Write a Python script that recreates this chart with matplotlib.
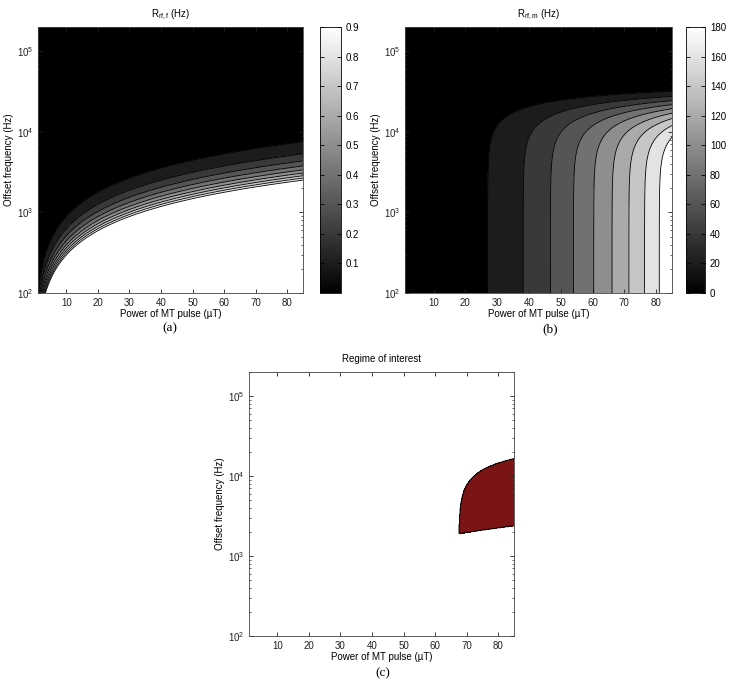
import numpy as np
import matplotlib
matplotlib.use("Agg")
import matplotlib.pyplot as plt
from matplotlib import cm, colors as mcolors
from matplotlib.ticker import LogLocator, NullFormatter, FixedLocator

plt.rcParams["font.family"] = ["Liberation Sans", "DejaVu Sans"]
plt.rcParams["font.size"] = 7
plt.rcParams["mathtext.default"] = "regular"

# --- values ---
power_range = [1, 85]            # µT (x axis)
offset_range = [1e2, 2e5]        # Hz (y axis, log)
x_ticks = [10, 20, 30, 40, 50, 60, 70, 80]
y_ticks = [1e2, 1e3, 1e4, 1e5]

# free pool: R_rf,f = 0.9 Hz at 85 µT / 2520 Hz, scales as (B1/offset)^2
rff_ref = [85.0, 2520.0, 0.9]
rff_levels = [0, 0.1, 0.2, 0.3, 0.4, 0.5, 0.6, 0.7, 0.8, 0.9]
rff_cbar_ticks = [0.1, 0.2, 0.3, 0.4, 0.5, 0.6, 0.7, 0.8, 0.9]

# bound pool: R_rf,m = 20 Hz at 27 µT (low offset), lineshape roll-off
rfm_ref = [27.0, 20.0]
rfm_width = 22700.0              # Hz
rfm_shape = 2.41
rfm_levels = [0, 20, 40, 60, 80, 100, 120, 140, 160, 180]
rfm_cbar_ticks = [0, 20, 40, 60, 80, 100, 120, 140, 160, 180]

# regime of interest thresholds
rff_max = 1.0
rfm_min = 125.0

RED = "#7b1515"

b1 = np.linspace(power_range[0], power_range[1], 500)
off = np.logspace(np.log10(offset_range[0]), np.log10(offset_range[1]), 500)
B1, OFF = np.meshgrid(b1, off)

RFF = rff_ref[2] * (B1 / rff_ref[0]) ** 2 * (rff_ref[1] / OFF) ** 2
RFM = rfm_ref[1] * (B1 / rfm_ref[0]) ** 2 * np.exp(-(OFF / rfm_width) ** rfm_shape)

fig = plt.figure(figsize=(7.33, 6.88), dpi=100)


def style_axes(ax, title):
    ax.set_yscale("log")
    ax.set_xlim(power_range)
    ax.set_ylim(offset_range)
    ax.set_xticks(x_ticks)
    ax.yaxis.set_major_locator(FixedLocator(y_ticks))
    ax.yaxis.set_minor_locator(LogLocator(base=10, subs=np.arange(2, 10)))
    ax.yaxis.set_minor_formatter(NullFormatter())
    ax.tick_params(which="both", direction="in", top=True, right=True,
                   labelsize=7, colors="#222222")
    ax.tick_params(which="major", length=3, width=0.6)
    ax.tick_params(which="minor", length=1.6, width=0.5)
    for s in ax.spines.values():
        s.set_linewidth(0.6)
        s.set_color("#444444")
    ax.set_xlabel("Power of MT pulse (µT)", fontsize=7, labelpad=1)
    ax.set_ylabel("Offset frequency (Hz)", fontsize=7, labelpad=2)
    ax.set_title(title, fontsize=7, pad=7)


def banded(ax, Z, levels, vmax):
    lv = list(levels) + [np.inf]
    cols = [str(min(l / vmax, 1.0)) for l in levels]
    ax.contourf(B1, OFF, Z, levels=lv, colors=cols)
    ax.contour(B1, OFF, Z, levels=levels[1:], colors="black", linewidths=0.6)


def colorbar(cax, vmax, ticks):
    sm = cm.ScalarMappable(norm=mcolors.Normalize(0, vmax), cmap="gray")
    cb = fig.colorbar(sm, cax=cax, ticks=ticks)
    cb.outline.set_linewidth(0.6)
    cax.tick_params(direction="in", length=3, width=0.6, labelsize=7,
                    left=True, right=True)
    return cb


# (a)
ax_a = fig.add_axes([0.0518, 0.5741, 0.3616, 0.3866])
banded(ax_a, RFF, rff_levels, rff_levels[-1])
style_axes(ax_a, "$R_{rf,f}$ (Hz)")
cax_a = fig.add_axes([0.4366, 0.5741, 0.0286, 0.3866])
colorbar(cax_a, rff_levels[-1], rff_cbar_ticks)

# (b)
ax_b = fig.add_axes([0.5525, 0.5741, 0.3643, 0.3866])
banded(ax_b, RFM, rfm_levels, rfm_levels[-1])
style_axes(ax_b, "$R_{rf,m}$ (Hz)")
cax_b = fig.add_axes([0.9359, 0.5741, 0.0259, 0.3866])
colorbar(cax_b, rfm_levels[-1], rfm_cbar_ticks)

# (c)
ax_c = fig.add_axes([0.3397, 0.0756, 0.3615, 0.3837])
mask = ((RFF < rff_max) & (RFM > rfm_min)).astype(float)
ax_c.contourf(B1, OFF, mask, levels=[0.5, 1.5], colors=[RED])
ax_c.contour(B1, OFF, mask, levels=[0.5], colors="black", linewidths=0.7)
style_axes(ax_c, "Regime of interest")

serif = ["Liberation Serif", "DejaVu Serif"]
fig.text(170 / 733, 1 - 328 / 688, "(a)", ha="center", va="center",
         fontsize=9.5, family=serif)
fig.text(550 / 733, 1 - 329 / 688, "(b)", ha="center", va="center",
         fontsize=9.5, family=serif)
fig.text(383 / 733, 1 - 673 / 688, "(c)", ha="center", va="center",
         fontsize=9.5, family=serif)

fig.savefig("out.png", dpi=100, facecolor="white")
